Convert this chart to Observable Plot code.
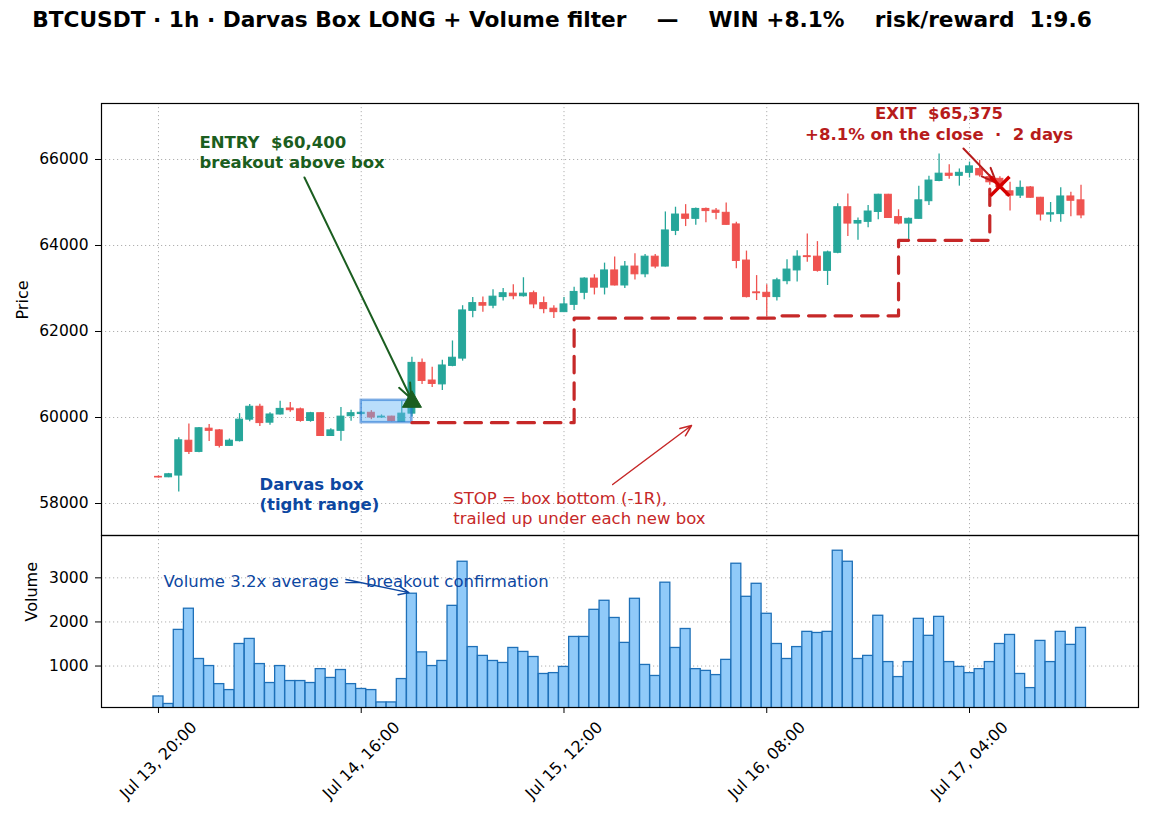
<!DOCTYPE html>
<html>
<head>
<meta charset="utf-8">
<script src="https://cdn.jsdelivr.net/npm/d3@7"></script>
<script src="https://cdn.jsdelivr.net/npm/@observablehq/plot@0.6"></script>
<style>
  body { margin: 0; background: #fff; font-family: "DejaVu Sans", sans-serif; }
  #fig { position: relative; width: 1149px; height: 818px; overflow: hidden; background: #fff; }
  #title { position: absolute; left: 0; top: 7px; width: 1124px; text-align: center;
           font-weight: bold; font-size: 21.7px; white-space: pre; color: #000; }
  #price { position: absolute; left: 0; top: 93px; }
  #volume { position: absolute; left: 0; top: 535px; }
  svg { overflow: visible; }
</style>
</head>
<body>
<div id="fig">
  <div id="title"></div>
  <div id="price"></div>
  <div id="volume"></div>
</div>
<script>
// ---- chart text ----
const titleText = "BTCUSDT · 1h · Darvas Box LONG + Volume filter    —    WIN +8.1%    risk/reward  1:9.6";

// ---- hourly candles, starting Jul 13 20:00 (UTC) ----
const startTime = Date.UTC(2024, 6, 13, 20);
const open  = [58620,58610,58650,59460,59200,59740,59700,59340,59450,59950,
               60250,59880,60070,60210,60190,59920,60100,59570,59690,60030,
               60080,60110,60000,60020,59900,60090,61270,60860,60770,61200,
               61370,62480,62660,62600,62800,62880,62820,62890,62660,62530,
               62450,62620,62900,63230,63020,63420,63070,63510,63330,63740,
               63510,64340,64720,64620,64850,64810,64760,64490,63650,62910,
               62900,62800,63170,63420,63750,63740,63410,63830,64890,64510,
               64550,64780,65180,64660,64510,64620,65030,65500,65670,65620,
               65690,65780,65590,65550,65260,65160,65350,65110,64720,64730,
               65140,65050];
const high  = [58640,58700,59530,59850,59770,59840,59720,59500,60090,60300,
               60310,60110,60380,60350,60220,60120,60110,59740,60230,60170,
               60140,60160,60060,60030,60380,61400,61360,61170,61330,61780,
               62600,62790,62800,62970,63000,63090,63250,62940,62800,62600,
               62790,63030,63250,63320,63590,63730,63630,63810,63790,63790,
               64780,64890,64950,64870,64870,64860,64990,64540,63870,63300,
               63090,63240,63670,63880,64270,64090,63870,64970,65200,64640,
               64930,65190,65190,64830,64640,65380,65610,66130,65880,65780,
               65940,65980,65650,65600,65470,65500,65370,65120,65000,65340,
               65240,65400];
const low   = [58590,58600,58270,59140,59180,59440,59290,59330,59430,59900,
               59790,59820,60060,60120,59890,59890,59560,59560,59450,59910,
               60050,59950,59980,59900,59890,60010,60770,60700,60630,61180,
               61310,62320,62450,62530,62710,62740,62800,62530,62410,62300,
               62440,62490,62740,62850,62850,63060,63000,63200,63250,63460,
               63500,64230,64440,64470,64530,64600,64470,63460,62780,62720,
               62340,62710,63090,63150,63610,63380,63070,63810,64210,64120,
               64410,64600,64630,64480,64140,64610,64930,65480,65540,65380,
               65570,65590,65400,65300,64800,65090,65100,64570,64540,64540,
               64670,64620];
const close = [58605,58680,59470,59200,59750,59690,59340,59460,59950,60250,
               59870,60070,60200,60170,59920,60100,59570,59700,60020,60100,
               60110,60000,60020,59920,60090,61270,60850,60780,61210,61390,
               62490,62660,62600,62810,62890,62820,62880,62630,62520,62450,
               62630,62920,63230,63020,63420,63070,63510,63330,63740,63510,
               64350,64720,64620,64850,64800,64760,64480,63640,62800,62890,
               62800,63190,63440,63740,63730,63410,63840,64890,64510,64570,
               64790,65180,64640,64510,64620,65050,65510,65670,65620,65690,
               65840,65630,65470,65375,65160,65340,65110,64720,64750,65140,
               65040,64700];
const volume = [310,140,1820,2300,1160,1000,590,455,1500,1615,
                1045,615,1000,660,660,615,930,730,910,590,
                480,455,175,175,705,2640,1310,1000,1115,2365,
                3365,1430,1230,1115,1070,1410,1320,1205,820,840,
                980,1660,1660,2275,2480,2090,1525,2525,1025,775,
                2890,1410,1840,930,890,795,1140,3320,2570,2865,
                2185,1500,1160,1430,1775,1750,1775,3615,3365,1160,
                1230,2140,1090,750,1090,2070,1685,2115,1090,980,
                840,930,1090,1500,1705,820,500,1570,1090,1775,
                1480,1865];

// ---- trade levels (hour index from start, price) ----
const boxStartHour = 20, boxEndHour = 25;
const boxLow = 59880, boxHigh = 60400;
const entryHour = 25, entryPrice = 60400;
const exitHour = 83, exitPrice = 65375;
const stopHours  = [25, 41, 61, 73, 82, 83];
const stopLevels = [59880, 62310, 62365, 64120, 65375, 65375];

// ---- axes ----
const xTickHours  = [0, 20, 40, 60, 80];
const xTickLabels = ["Jul 13, 20:00", "Jul 14, 16:00", "Jul 15, 12:00", "Jul 16, 08:00", "Jul 17, 04:00"];
const priceTicks  = [58000, 60000, 62000, 64000, 66000];
const volumeTicks = [1000, 2000, 3000];

// ---- colours ----
const upColor = "#26a69a", downColor = "#ef5350";
const gridStyle = {stroke: "#b0b0b0", strokeOpacity: 1, strokeWidth: 1, strokeDasharray: "1.2,2.8"};

const HOUR = 3600e3;
const T = h => new Date(startTime + h * HOUR);
const xDomain = [T(-5.62), T(96.67)];
const xTicks = xTickHours.map(T);

const candles = open.map((o, i) => ({i, t: T(i), o, h: high[i], l: low[i], c: close[i]}));
const bars = volume.map((v, i) => ({i, t: T(i), v}));
const candleColor = d => d.c >= d.o ? upColor : downColor;
const stopPath = stopHours.map((h, k) => ({t: T(h), p: stopLevels[k]}));

document.getElementById("title").textContent = titleText;

const font = "DejaVu Sans";

// ---- price panel ----
const price = Plot.plot({
  width: 1149, height: 442,
  marginTop: 10, marginBottom: 0, marginLeft: 101, marginRight: 11,
  style: {fontFamily: font, fontSize: "15px", color: "#000", background: "transparent", overflow: "visible"},
  x: {type: "utc", domain: xDomain, axis: null},
  y: {domain: [57256, 67302]},
  marks: [
    Plot.gridX(xTicks, gridStyle),
    Plot.gridY(priceTicks, gridStyle),
    Plot.axisY(priceTicks, {tickSize: 6, tickPadding: 7, fontSize: 15.5, label: null, tickFormat: d => String(d)}),
    Plot.text(["Price"], {frameAnchor: "left", dx: -79, rotate: -90, fontSize: 16, fill: "#000"}),
    // candle wicks and bodies
    Plot.ruleX(candles, {x: "t", y1: "l", y2: "h", stroke: candleColor, strokeWidth: 1.3}),
    Plot.rect(candles, {x1: d => T(d.i - 0.34), x2: d => T(d.i + 0.34), y1: "o", y2: "c",
                        fill: candleColor, stroke: candleColor, strokeWidth: 1}),
    // consolidation box
    Plot.rect([{}], {x1: T(boxStartHour), x2: T(boxEndHour), y1: boxLow, y2: boxHigh,
                     fill: "#64b5f6", fillOpacity: 0.45, stroke: "#1e6fd0", strokeOpacity: 0.55, strokeWidth: 2.5}),
    // trailing stop
    Plot.line(stopPath, {x: "t", y: "p", curve: "step-after", stroke: "#c62828", strokeWidth: 3.2,
                         strokeDasharray: "16.5,10"}),
    // entry
    Plot.arrow([{}], {x1: T(14.4), y1: 65581, x2: T(entryHour), y2: entryPrice, insetEnd: 2,
                      stroke: "#1b5e20", strokeWidth: 2, headLength: 12, headAngle: 45}),
    Plot.dot([{t: T(entryHour), p: entryPrice}], {x: "t", y: "p", symbol: "triangle", r: 7.1, dy: 1.5,
                                                  fill: "#1b5e20", stroke: "#1b5e20", strokeWidth: 1}),
    Plot.text(["ENTRY  $60,400\nbreakout above box"], {x: T(4.04), y: 66186, textAnchor: "start", lineAnchor: "middle",
                                                       lineHeight: 1.25, fontSize: 16.5, fontWeight: "bold", fill: "#1b5e20"}),
    Plot.text(["Darvas box\n(tight range)"], {x: T(9.96), y: 58233, textAnchor: "start", lineAnchor: "middle",
                                               lineHeight: 1.25, fontSize: 16.5, fontWeight: "bold", fill: "#0d47a1"}),
    // stop annotation
    Plot.arrow([{}], {x1: T(44.8), y1: 58442, x2: T(52.58), y2: 59814,
                      stroke: "#c62828", strokeWidth: 1.5, headLength: 12, headAngle: 45}),
    Plot.text(["STOP = box bottom (-1R),\ntrailed up under each new box"], {x: T(29.07), y: 57900, textAnchor: "start",
               lineAnchor: "middle", lineHeight: 1.22, fontSize: 16.5, fill: "#c62828"}),
    // exit
    Plot.arrow([{}], {x1: T(79.4), y1: 66256, x2: T(exitHour), y2: exitPrice, insetEnd: 5,
                      stroke: "#b71c1c", strokeWidth: 2, headLength: 12, headAngle: 45}),
    Plot.dot([{t: T(exitHour), p: exitPrice}], {x: "t", y: "p", symbol: "times", r: 8.7,
                                               stroke: "#d50000", strokeWidth: 3.5}),
    Plot.text(["EXIT  $65,375\n+8.1% on the close  ·  2 days"], {x: T(77.0), y: 66850, textAnchor: "middle",
               lineAnchor: "middle", lineHeight: 1.27, fontSize: 16.5, fontWeight: "bold", fill: "#b71c1c"}),
    Plot.frame({stroke: "#000", strokeWidth: 1.2})
  ]
});
document.getElementById("price").append(price);

// ---- volume panel ----
const vol = Plot.plot({
  width: 1149, height: 283,
  marginTop: 0, marginBottom: 111, marginLeft: 101, marginRight: 11,
  style: {fontFamily: font, fontSize: "15px", color: "#000", background: "transparent", overflow: "visible"},
  x: {type: "utc", domain: xDomain},
  y: {domain: [60, 3960]},
  marks: [
    Plot.gridX(xTicks, gridStyle),
    Plot.gridY(volumeTicks, gridStyle),
    Plot.rectY(bars, {x1: d => T(d.i - 0.49), x2: d => T(d.i + 0.49), y1: 0, y2: "v", clip: true,
                      fill: "#90caf9", stroke: "#1e70b8", strokeWidth: 1.3}),
    Plot.axisY(volumeTicks, {tickSize: 6, tickPadding: 7, fontSize: 15.5, label: null, tickFormat: d => String(d)}),
    Plot.text(["Volume"], {frameAnchor: "left", dx: -70, rotate: -90, fontSize: 16, fill: "#000"}),
    Plot.axisX(xTicks, {tickSize: 6, tickFormat: () => "", label: null}),
    Plot.text(xTicks, {x: d => d, text: (d, i) => xTickLabels[i], frameAnchor: "bottom", dy: 53,
                       rotate: -45, textAnchor: "middle", lineAnchor: "middle", fontSize: 16, fill: "#000"}),
    Plot.arrow([{}], {x1: T(18.5), y1: 2960, x2: T(24.7), y2: 2665,
                      stroke: "#0d47a1", strokeWidth: 1.5, headLength: 11, headAngle: 45}),
    Plot.text(["Volume 3.2x average — breakout confirmation"], {x: T(0.5), y: 2923, textAnchor: "start",
               lineAnchor: "middle", fontSize: 16.5, fill: "#0d47a1"}),
    Plot.frame({stroke: "#000", strokeWidth: 1.2})
  ]
});
document.getElementById("volume").append(vol);
</script>
</body>
</html>
